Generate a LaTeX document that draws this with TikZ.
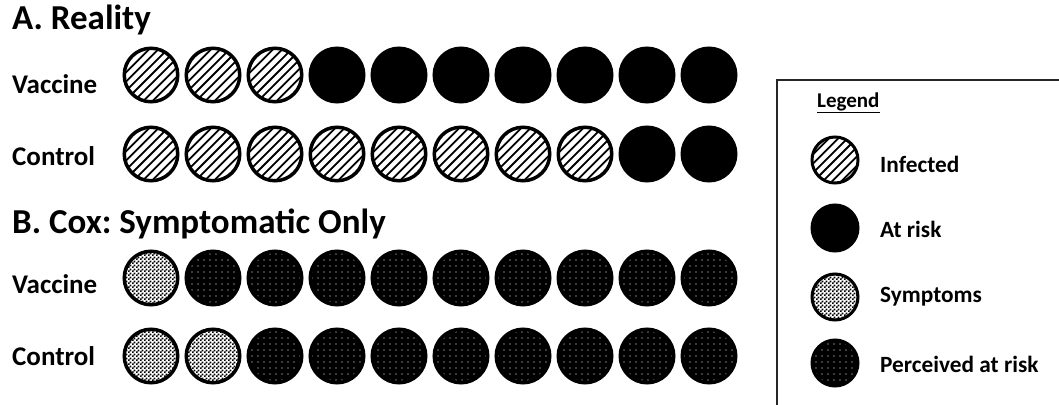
\documentclass[tikz,border=0pt]{standalone}
\usepackage{fontspec}
\setmainfont{Carlito}
\usepackage{tikz}
\usetikzlibrary{patterns, patterns.meta}
\frenchspacing

% fine checkerboard for the symptoms fill
\pgfdeclarepatternformonly{checker}{\pgfpointorigin}{\pgfpoint{4pt}{4pt}}{\pgfpoint{4pt}{4pt}}{
    \pgfpathrectangle{\pgfpointorigin}{\pgfpoint{2pt}{2pt}}
    \pgfpathrectangle{\pgfpoint{2pt}{2pt}}{\pgfpoint{2pt}{2pt}}
    \pgfusepath{fill}
}

\begin{document}
\begin{tikzpicture}[
    x=1pt, y=-1pt,
    person/.style={circle, minimum size=53.5pt, inner sep=0pt, line width=3.5pt},
    infected/.style={person, draw, path picture={
        \foreach \k in {-6,...,6}
            \draw[line width=1.8pt] ([shift={({\k*9.2-40},40)}]path picture bounding box.center) -- ++(80,-80);
    }},
    atrisk/.style={person, draw, fill=black},
    symptoms/.style={person, draw, preaction={fill=white}, pattern=checker},
    perceived/.style={person, draw, preaction={fill=black}, pattern={Dots[radius=0.7pt, distance=6pt]}, pattern color=white},
    small/.style={minimum size=46pt, line width=3pt},
    title/.style={font=\fontsize{35}{40}\selectfont\bfseries, anchor=base west, inner sep=0pt},
    group/.style={font=\fontsize{27}{30}\selectfont\bfseries, anchor=base west, inner sep=0pt},
    key/.style={font=\fontsize{23.3}{26}\selectfont\bfseries, anchor=base west, inner sep=0pt}
]
\useasboundingbox (0,0) rectangle (1059,404);
\clip (0,0) rectangle (1059,404);

% A. Reality
\node[title] (ta) at (12,30) {A. Reality};
\node[group] (va) at (12,93) {Vaccine};
\node[group] (ca) at (12,165) {Control};
\foreach \i in {1,...,3}
    \node[infected] (va\i) at ({151+62*(\i-1)},75) {};
\foreach \i in {4,...,10}
    \node[atrisk] (va\i) at ({151+62*(\i-1)},75) {};
\foreach \i in {1,...,8}
    \node[infected] (ca\i) at ({151+62*(\i-1)},154) {};
\foreach \i in {9,10}
    \node[atrisk] (ca\i) at ({151+62*(\i-1)},154) {};

% B. Cox: symptomatic only
\node[title] (tb) at (12,233) {B. Cox: Symptomatic Only};
\node[group] (vb) at (12,293) {Vaccine};
\node[group] (cb) at (12,365) {Control};
\node[symptoms] (vb1) at (151,278) {};
\foreach \i in {2,...,10}
    \node[perceived] (vb\i) at ({151+62*(\i-1)},278) {};
\foreach \i in {1,2}
    \node[symptoms] (cb\i) at ({151+62*(\i-1)},356) {};
\foreach \i in {3,...,10}
    \node[perceived] (cb\i) at ({151+62*(\i-1)},356) {};

% Legend
\draw[line width=1.5pt, black!85] (777,80) rectangle (1070,415);
\node[key, font=\fontsize{21}{24}\selectfont\bfseries] (lg) at (817,107) {\underline{Legend}};
\node[infected, small] (k1) at (835,160) {};
\node[atrisk, small] (k2) at (835,228) {};
\node[symptoms, small] (k3) at (835,297) {};
\node[perceived, small] (k4) at (835,363) {};
\node[key] (l1) at (880,172) {Infected};
\node[key] (l2) at (880,237) {At risk};
\node[key] (l3) at (880,302) {Symptoms};
\node[key] (l4) at (880,372) {Perceived at risk};
\end{tikzpicture}
\end{document}
